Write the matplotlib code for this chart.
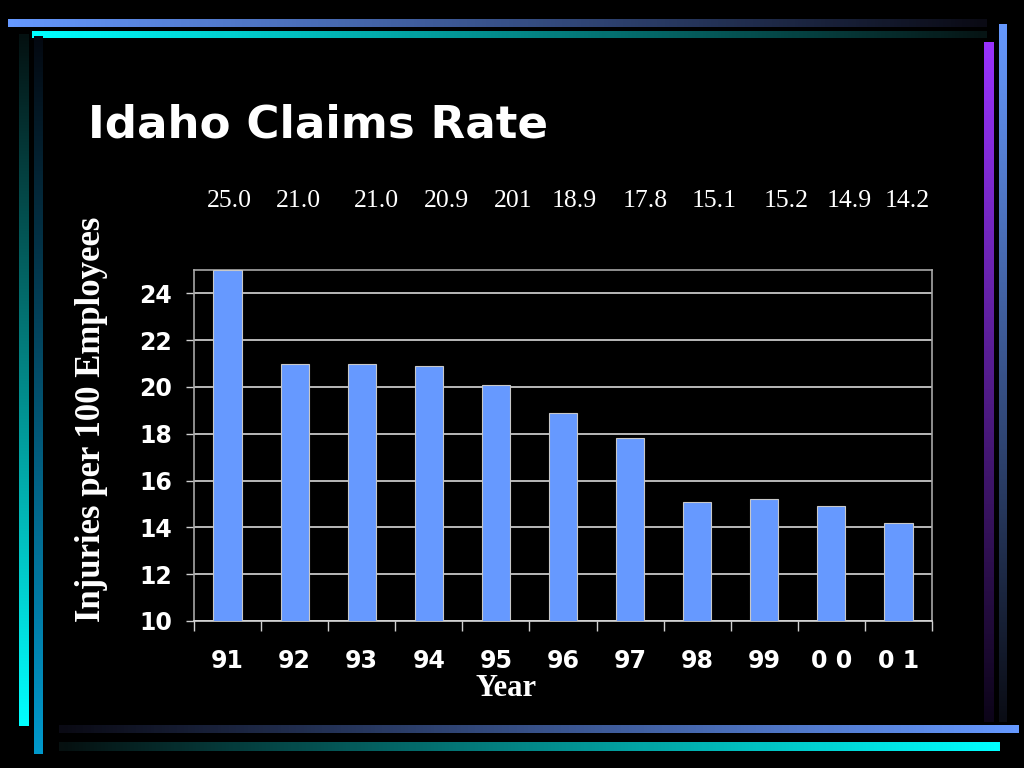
import numpy as np
import matplotlib
matplotlib.use("Agg")
import matplotlib.pyplot as plt
from matplotlib.colors import LinearSegmentedColormap

# ---------------- data ----------------
years = ["91", "92", "93", "94", "95", "96", "97", "98", "99", "0 0", "0 1"]
rates = [25.0, 21.0, 21.0, 20.9, 20.1, 18.9, 17.8, 15.1, 15.2, 14.9, 14.2]
value_labels = ["25.0", "21.0", "21.0", "20.9", "201", "18.9", "17.8",
                "15.1", "15.2", "14.9", "14.2"]
y_ticks = [10, 12, 14, 16, 18, 20, 22, 24]

title = "Idaho Claims Rate"
xlabel = "Year"
ylabel = "Injuries per 100 Employees"

# ---------------- layout (pixels) ----------------
W, H = 1024, 768
label_x_px = [229, 298, 376, 446, 513, 574, 645, 714, 786, 849, 907]
label_y_px = 201
ax_left, ax_right, ax_top, ax_bottom = 194, 932, 270, 621

BAR_COLOR = "#6699FF"

fig = plt.figure(figsize=(W / 100, H / 100), dpi=100, facecolor="black")

# background overlay in pixel coordinates
bg = fig.add_axes([0, 0, 1, 1], zorder=0)
bg.set_xlim(0, W)
bg.set_ylim(H, 0)
bg.axis("off")
bg.set_facecolor("black")


def grad(x0, x1, y0, y1, c_start, c_end, horizontal=True):
    cmap = LinearSegmentedColormap.from_list("g", [c_start, c_end])
    g = np.linspace(0, 1, 256)
    img = g[np.newaxis, :] if horizontal else g[:, np.newaxis]
    bg.imshow(img, cmap=cmap, extent=(x0, x1, y1, y0), aspect="auto",
              interpolation="bilinear")


# top lines (bright left -> dark right)
grad(8, 987, 19, 27, "#6699FF", "#0a0a14")
grad(32, 987, 31, 38, "#00FFFF", "#061414")
# left vertical lines (dark top -> bright bottom)
grad(19, 29, 34, 726, "#041010", "#00FFFF", horizontal=False)
grad(34, 43, 36, 754, "#040810", "#0099CC", horizontal=False)
# right vertical lines (bright top -> dark bottom)
grad(984, 994, 42, 722, "#9933FF", "#0c0418", horizontal=False)
grad(999, 1007, 24, 722, "#6699FF", "#0a0c14", horizontal=False)
# bottom lines (dark left -> bright right)
grad(59, 1019, 725, 733, "#0a0a14", "#6699FF")
grad(59, 1000, 742, 751, "#061010", "#00FFFF")
bg.set_xlim(0, W)
bg.set_ylim(H, 0)

# title
bg.text(88, 137, title, color="white", fontsize=32.5, fontweight="bold",
        family="DejaVu Sans", ha="left", va="baseline")

# value labels above the chart
for xp, lab in zip(label_x_px, value_labels):
    bg.text(xp, label_y_px, lab, color="white", fontsize=18.5,
            family="Liberation Serif", ha="center", va="center")

# axis titles
bg.text(92, 419, ylabel, color="white", fontsize=25, fontweight="bold",
        family="Liberation Serif", rotation=90, ha="center", va="center")
bg.text(506, 689, xlabel, color="white", fontsize=22, fontweight="bold",
        family="Liberation Serif", ha="center", va="center")

# ---------------- main chart ----------------
ax = fig.add_axes([ax_left / W, (H - ax_bottom) / H,
                   (ax_right - ax_left) / W, (ax_bottom - ax_top) / H], zorder=1)
ax.set_facecolor("black")
x = np.arange(len(years))
ax.bar(x, rates, width=0.42, color=BAR_COLOR, edgecolor="#c8c8c8",
       linewidth=0.8, zorder=3)
ax.set_xlim(-0.5, len(years) - 0.5)
ax.set_ylim(10, 25)
ax.set_yticks(y_ticks)
ax.set_yticklabels([str(t) for t in y_ticks])
ax.yaxis.grid(True, color="#d8d8d8", linewidth=1.2, zorder=1)
ax.set_axisbelow(True)

# major x ticks at category boundaries, labels at centers
ax.set_xticks(np.arange(-0.5, len(years), 1.0))
ax.set_xticklabels([])
ax.set_xticks(x, minor=True)
ax.set_xticklabels(years, minor=True)
ax.tick_params(axis="x", which="major", direction="out", length=7,
               width=1, color="#d0d0d0")
ax.tick_params(axis="x", which="minor", length=0, pad=20,
               labelsize=17, labelcolor="white")
ax.tick_params(axis="y", direction="out", length=6, width=1, color="#d0d0d0",
               pad=10, labelsize=17, labelcolor="white")
for lab in ax.get_xticklabels(minor=True) + ax.get_yticklabels():
    lab.set_fontweight("bold")
    lab.set_family("DejaVu Sans")
for s in ax.spines.values():
    s.set_color("#a8a8a8")
    s.set_linewidth(1.2)
ax.spines["bottom"].set_color("#d8d8d8")

fig.savefig("out.png", dpi=100, facecolor="black")
